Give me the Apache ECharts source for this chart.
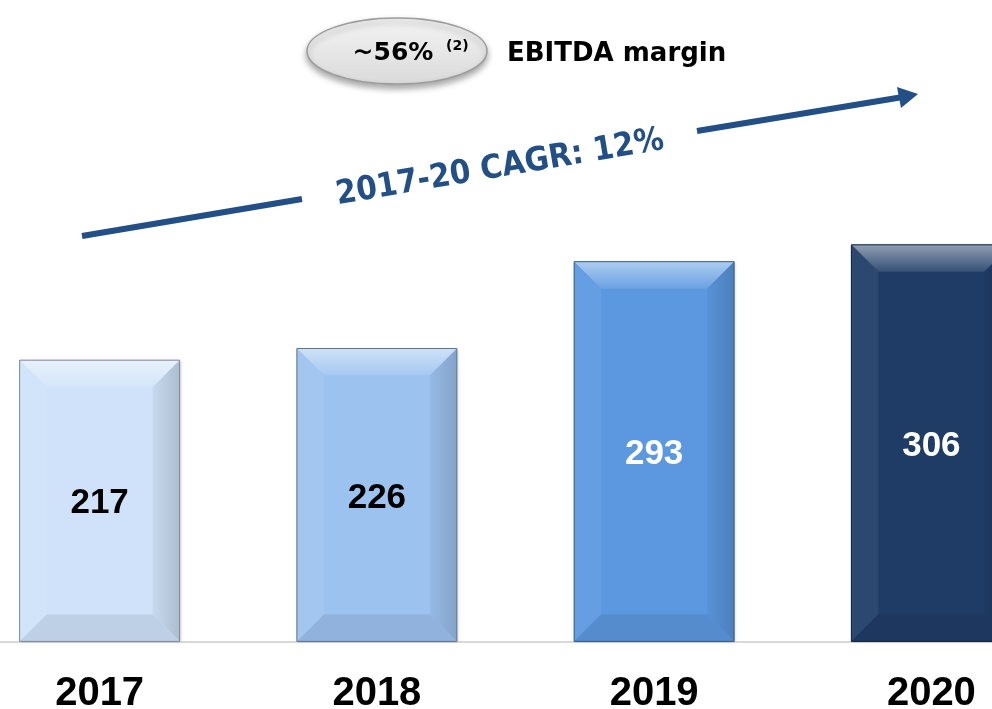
<!DOCTYPE html>
<html>
<head>
<meta charset="utf-8">
<script src="https://cdn.jsdelivr.net/npm/echarts@6/dist/echarts.min.js"></script>
<style>
  html, body { margin: 0; padding: 0; background: #fff; }
  #chart { width: 992px; height: 709px; }
</style>
</head>
<body>
<div id="chart"></div>
<script>
const years = ['2017', '2018', '2019', '2020'];
const revenue = [217, 226, 293, 306];

// fill per bar, and the colour of the number printed on it
const barColors = ['#cfe2f9', '#9cc2ef', '#5b98e0', '#1f3c66'];
const labelColors = ['#000', '#000', '#fff', '#fff'];

const arrowBlue = '#214f86';
const sans = '"Liberation Sans", Arial, sans-serif';
const wide = '"DejaVu Sans", sans-serif';
const narrow = '"DejaVu Sans Condensed", "DejaVu Sans", sans-serif';

function shade(hex, amt) {
  const n = parseInt(hex.slice(1), 16);
  const f = c => Math.max(0, Math.min(255, Math.round(amt > 0 ? c + (255 - c) * amt : c * (1 + amt))));
  const r = f(n >> 16), g = f((n >> 8) & 255), b = f(n & 255);
  return `rgb(${r},${g},${b})`;
}

const chart = echarts.init(document.getElementById('chart'), null, { renderer: 'canvas' });

function renderBar(params, api) {
  const i = api.value(0);
  const v = api.value(1);
  const base = api.coord([i, 0]);
  const top = api.coord([i, v]);
  const w = api.size([1, 0])[0] * 0.577;
  const x0 = base[0] - w / 2, x1 = base[0] + w / 2;
  const y0 = top[1], y1 = base[1];
  const b = 27;
  const c = barColors[i];
  return {
    type: 'group',
    children: [
      {
        type: 'rect',
        shape: { x: x0, y: y0, width: w, height: y1 - y0 },
        style: { fill: c, shadowBlur: 3, shadowColor: 'rgba(0,0,0,0.25)', shadowOffsetX: 1, shadowOffsetY: 1 }
      },
      { // top bevel
        type: 'polygon',
        shape: { points: [[x0, y0], [x1, y0], [x1 - b, y0 + b], [x0 + b, y0 + b]] },
        style: { fill: new echarts.graphic.LinearGradient(0, 0, 0, 1, [
          { offset: 0, color: shade(c, 0.5) }, { offset: 1, color: shade(c, 0.1) }]) }
      },
      { // left bevel
        type: 'polygon',
        shape: { points: [[x0, y0], [x0 + b, y0 + b], [x0 + b, y1 - b], [x0, y1]] },
        style: { fill: shade(c, 0.06) }
      },
      { // right bevel
        type: 'polygon',
        shape: { points: [[x1, y0], [x1, y1], [x1 - b, y1 - b], [x1 - b, y0 + b]] },
        style: { fill: new echarts.graphic.LinearGradient(0, 0, 1, 0, [
          { offset: 0, color: shade(c, -0.04) }, { offset: 1, color: shade(c, -0.16) }]) }
      },
      { // bottom bevel
        type: 'polygon',
        shape: { points: [[x0, y1], [x0 + b, y1 - b], [x1 - b, y1 - b], [x1, y1]] },
        style: { fill: shade(c, -0.08) }
      },
      {
        type: 'rect',
        shape: { x: x0, y: y0, width: w, height: y1 - y0 },
        style: { fill: 'none', stroke: shade(c, -0.4), lineWidth: 1 }
      },
      {
        type: 'text',
        x: base[0],
        y: (y0 + y1) / 2 + 3,
        style: {
          text: String(v), align: 'center', verticalAlign: 'middle',
          fill: labelColors[i], font: `bold 35px ${sans}`
        }
      }
    ]
  };
}

chart.setOption({
  backgroundColor: '#fff',
  animation: false,
  grid: { left: -39, right: -78, top: 123, bottom: 65, outerBoundsMode: 'none', containLabel: false },
  xAxis: {
    type: 'category',
    data: years,
    axisLine: { show: true, lineStyle: { color: '#d9d9d9', width: 2 } },
    axisTick: { show: false },
    axisLabel: { margin: 30, color: '#000', fontSize: 40, fontWeight: 'bold', fontFamily: sans }
  },
  yAxis: {
    type: 'value',
    min: -2,
    max: 400,
    show: false,
    splitLine: { show: false }
  },
  series: [{
    type: 'custom',
    renderItem: renderBar,
    data: revenue.map((v, i) => [i, v]),
    encode: { x: 0, y: 1 }
  }],
  graphic: [
    {
      type: 'ellipse',
      shape: { cx: 397, cy: 51, rx: 90, ry: 33 },
      style: {
        fill: new echarts.graphic.LinearGradient(0, 0, 0, 1, [
          { offset: 0, color: '#f4f4f4' }, { offset: 1, color: '#dadada' }]),
        stroke: '#9c9c9c', lineWidth: 1.5,
        shadowBlur: 6, shadowOffsetY: 4, shadowColor: 'rgba(0,0,0,0.35)'
      }
    },
    {
      type: 'text', x: 393, y: 53,
      style: { text: '~56%', align: 'center', verticalAlign: 'middle', fill: '#000', font: `bold 25px ${wide}` }
    },
    {
      type: 'text', x: 446, y: 46,
      style: { text: '(2)', align: 'left', verticalAlign: 'middle', fill: '#000', font: `bold 14px ${wide}` }
    },
    {
      type: 'text', x: 507, y: 54,
      style: { text: 'EBITDA margin', align: 'left', verticalAlign: 'middle', fill: '#000', font: `bold 26px ${wide}` }
    },
    {
      type: 'line',
      shape: { x1: 82, y1: 236, x2: 302, y2: 199 },
      style: { stroke: arrowBlue, lineWidth: 6 }
    },
    {
      type: 'line',
      shape: { x1: 697, y1: 131, x2: 903, y2: 97 },
      style: { stroke: arrowBlue, lineWidth: 6 }
    },
    {
      type: 'polygon',
      shape: { points: [[918, 94], [897, 87], [901, 108]] },
      style: { fill: arrowBlue }
    },
    {
      type: 'text', x: 500, y: 168, rotation: 9.6 * Math.PI / 180,
      style: { text: '2017-20 CAGR: 12%', align: 'center', verticalAlign: 'middle', fill: arrowBlue, font: `bold 33px ${narrow}` }
    }
  ]
});
</script>
</body>
</html>
